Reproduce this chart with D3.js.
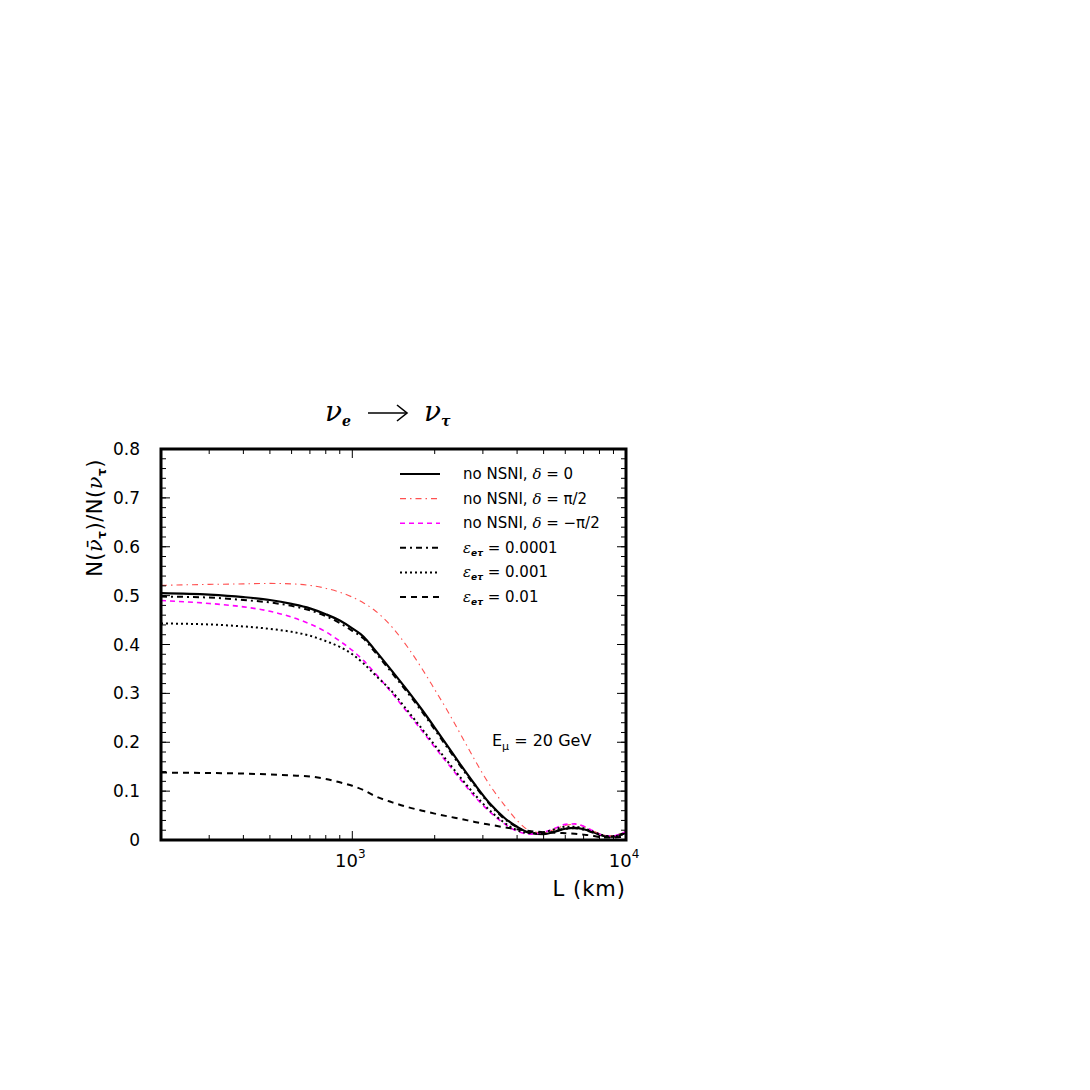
<!DOCTYPE html>
<html>
<head>
<meta charset="utf-8">
<script src="https://d3js.org/d3.v7.min.js"></script>
<style>
  body { margin: 0; background: #fff; }
  svg { display: block; }
</style>
</head>
<body>
<div id="chart"></div>
<script>
/*
nu_e -> nu_tau ratio vs baseline
*/

// Baselines (km) at which the curves were read
var L_km = [200, 300, 400, 500, 600, 700, 800, 900, 1000, 1100, 1200, 1400, 1600, 1800, 2000, 2250,
            2500, 2800, 3200, 3600, 4000, 4500, 5000, 5500, 6000, 6500, 7000, 7500, 8000, 8500, 9000, 9500, 10000];

// no NSNI, delta = 0
var noNsniD0 = [0.505, 0.502, 0.497, 0.491, 0.483, 0.474, 0.462, 0.449, 0.433, 0.416, 0.391, 0.345, 0.304, 0.266, 0.230, 0.189,
                0.152, 0.114, 0.073, 0.045, 0.027, 0.014, 0.012, 0.017, 0.023, 0.025, 0.022, 0.017, 0.011, 0.007, 0.007, 0.011, 0.015];
// no NSNI, delta = pi/2
var noNsniPi2 = [0.521, 0.523, 0.524, 0.525, 0.524, 0.521, 0.515, 0.507, 0.497, 0.485, 0.471, 0.435, 0.393, 0.350, 0.308, 0.260,
                 0.214, 0.164, 0.110, 0.071, 0.040, 0.018, 0.015, 0.022, 0.030, 0.032, 0.028, 0.020, 0.013, 0.009, 0.008, 0.012, 0.018];
// no NSNI, delta = -pi/2
var noNsniMPi2 = [0.490, 0.484, 0.477, 0.468, 0.456, 0.442, 0.426, 0.407, 0.388, 0.367, 0.344, 0.300, 0.259, 0.223, 0.190, 0.154,
                  0.122, 0.089, 0.056, 0.033, 0.018, 0.012, 0.016, 0.024, 0.032, 0.033, 0.028, 0.020, 0.012, 0.008, 0.008, 0.012, 0.017];
// eps_etau = 0.0001
var eps1e4 = [0.498, 0.496, 0.491, 0.486, 0.479, 0.470, 0.458, 0.444, 0.428, 0.412, 0.387, 0.341, 0.300, 0.262, 0.226, 0.185,
              0.149, 0.111, 0.071, 0.043, 0.026, 0.014, 0.013, 0.018, 0.023, 0.024, 0.021, 0.016, 0.011, 0.007, 0.007, 0.010, 0.014];
// eps_etau = 0.001
var eps1e3 = [0.443, 0.441, 0.437, 0.432, 0.426, 0.418, 0.407, 0.395, 0.380, 0.361, 0.340, 0.303, 0.263, 0.227, 0.194, 0.158,
              0.126, 0.093, 0.059, 0.035, 0.020, 0.014, 0.016, 0.022, 0.027, 0.027, 0.024, 0.018, 0.012, 0.008, 0.007, 0.010, 0.013];
// eps_etau = 0.01
var eps1e2 = [0.138, 0.137, 0.136, 0.134, 0.132, 0.130, 0.125, 0.118, 0.111, 0.102, 0.091, 0.077, 0.067, 0.060, 0.054, 0.048,
              0.043, 0.037, 0.031, 0.026, 0.022, 0.018, 0.016, 0.015, 0.014, 0.013, 0.011, 0.009, 0.006, 0.005, 0.005, 0.006, 0.008];

// Ticks
var yTicks = [0, 0.1, 0.2, 0.3, 0.4, 0.5, 0.6, 0.7, 0.8];
var xMajor = [1000, 10000];
var xMajorExp = ["3", "4"];
var xMinor = [200, 300, 400, 500, 600, 700, 800, 900, 2000, 3000, 4000, 5000, 6000, 7000, 8000, 9000];

// Page / plot box (note: "top" is a reserved window property, so use plot_*)
var width = 1090, height = 1090;
var plot_left = 161, plot_right = 626, plot_top = 449, plot_bottom = 840;

var font = "'DejaVu Sans', sans-serif";
var serif = "'DejaVu Serif', serif";

var svg = d3.select("#chart").append("svg")
  .attr("width", width)
  .attr("height", height);

var x = d3.scaleLog().domain([200, 10000]).range([plot_left, plot_right]);
var y = d3.scaleLinear().domain([0, 0.8]).range([plot_bottom, plot_top]);

// Series styles
var series = [
  {values: noNsniD0,   color: "#000",    width: 2.2, dash: null},
  {values: noNsniPi2,  color: "#ff5050", width: 1.1, dash: "6,4,1.5,4"},
  {values: noNsniMPi2, color: "#ff00ff", width: 1.6, dash: "5,4"},
  {values: eps1e4,     color: "#000",    width: 2,   dash: "6,4,2,4"},
  {values: eps1e3,     color: "#000",    width: 2,   dash: "2,3"},
  {values: eps1e2,     color: "#000",    width: 2,   dash: "6,5"}
];

svg.append("clipPath").attr("id", "plot-clip")
  .append("rect")
  .attr("x", plot_left).attr("y", plot_top)
  .attr("width", plot_right - plot_left).attr("height", plot_bottom - plot_top);

var line = d3.line()
  .x(function(d) { return x(d[0]); })
  .y(function(d) { return y(d[1]); })
  .curve(d3.curveMonotoneX);

// Curves
var curves = svg.append("g").attr("clip-path", "url(#plot-clip)");
series.forEach(function(s) {
  curves.append("path")
    .datum(L_km.map(function(l, i) { return [l, s.values[i]]; }))
    .attr("d", line)
    .attr("fill", "none")
    .attr("stroke", s.color)
    .attr("stroke-width", s.width)
    .attr("stroke-dasharray", s.dash);
});

// Ticks pointing inward, on all four sides
var ticks = svg.append("g").attr("stroke", "#000").attr("stroke-width", 1);

function xTick(v, len) {
  ticks.append("line").attr("x1", x(v)).attr("x2", x(v)).attr("y1", plot_bottom).attr("y2", plot_bottom - len);
  ticks.append("line").attr("x1", x(v)).attr("x2", x(v)).attr("y1", plot_top).attr("y2", plot_top + len);
}
function yTick(v, len) {
  ticks.append("line").attr("x1", plot_left).attr("x2", plot_left + len).attr("y1", y(v)).attr("y2", y(v));
  ticks.append("line").attr("x1", plot_right).attr("x2", plot_right - len).attr("y1", y(v)).attr("y2", y(v));
}
xMinor.forEach(function(v) { xTick(v, 5); });
xMajor.forEach(function(v) { xTick(v, 9); });
d3.range(0, 0.8001, 0.02).forEach(function(v) { yTick(v, 5); });
yTicks.forEach(function(v) { yTick(v, 9); });

// Frame
svg.append("rect")
  .attr("x", plot_left).attr("y", plot_top)
  .attr("width", plot_right - plot_left).attr("height", plot_bottom - plot_top)
  .attr("fill", "none")
  .attr("stroke", "#000")
  .attr("stroke-width", 3);

// Y tick labels
svg.append("g").selectAll("text")
  .data(yTicks)
  .enter().append("text")
  .attr("x", plot_left - 21)
  .attr("y", function(d) { return y(d) + 6; })
  .attr("text-anchor", "end")
  .style("font-family", font)
  .style("font-size", "17px")
  .text(function(d) { return d === 0 ? "0" : d3.format(".1f")(d); });

// X tick labels: 10^3, 10^4
var xl = svg.append("g").selectAll("text")
  .data(xMajor)
  .enter().append("text")
  .attr("x", function(d) { return x(d) - 2; })
  .attr("y", plot_bottom + 27)
  .attr("text-anchor", "middle")
  .style("font-family", font)
  .style("font-size", "18px");
xl.append("tspan").text("10");
xl.append("tspan")
  .attr("dy", -9)
  .style("font-size", "12px")
  .text(function(d, i) { return xMajorExp[i]; });

// Axis titles
svg.append("text")
  .attr("x", plot_right)
  .attr("y", plot_bottom + 56)
  .attr("text-anchor", "end")
  .style("font-family", font)
  .style("font-size", "21px")
  .style("letter-spacing", "1px")
  .text("L (km)");

var yl = svg.append("text")
  .attr("transform", "translate(102,518) rotate(-90)")
  .attr("text-anchor", "middle")
  .style("font-family", font)
  .style("font-size", "21px")
  .style("letter-spacing", "0.5px");
yl.append("tspan").text("N(");
yl.append("tspan").style("font-family", serif).style("font-style", "italic").text("ν\u0304");
yl.append("tspan").attr("dy", 4).style("font-size", "12px").style("font-weight", "bold").text("τ");
yl.append("tspan").attr("dy", -4).text(")/N(");
yl.append("tspan").style("font-family", serif).style("font-style", "italic").text("ν");
yl.append("tspan").attr("dy", 4).style("font-size", "12px").style("font-weight", "bold").text("τ");
yl.append("tspan").attr("dy", -4).text(")");

// Title: nu_e -> nu_tau
var title = svg.append("g").style("font-family", serif);
title.append("text").attr("x", 325).attr("y", 421)
  .style("font-size", "28px").style("font-style", "italic").text("ν");
title.append("text").attr("x", 342).attr("y", 426)
  .style("font-size", "14px").style("font-weight", "bold").style("font-style", "italic").text("e");
title.append("line").attr("x1", 368).attr("x2", 406).attr("y1", 413).attr("y2", 413)
  .attr("stroke", "#000").attr("stroke-width", 1.6);
title.append("path").attr("d", "M397,405 L407,413 L397,421")
  .attr("fill", "none").attr("stroke", "#000").attr("stroke-width", 1.6);
title.append("text").attr("x", 424).attr("y", 421)
  .style("font-size", "28px").style("font-style", "italic").text("ν");
title.append("text").attr("x", 441).attr("y", 426)
  .style("font-size", "14px").style("font-weight", "bold").style("font-style", "italic").text("τ");

// Legend
var legendRows = [
  {s: series[0], label: ["no NSNI, ", "δ", " = 0"]},
  {s: series[1], label: ["no NSNI, ", "δ", " = π/2"]},
  {s: series[2], label: ["no NSNI, ", "δ", " = −π/2"]},
  {s: series[3], eps: "0.0001"},
  {s: series[4], eps: "0.001"},
  {s: series[5], eps: "0.01"}
];
var legend = svg.append("g");
legendRows.forEach(function(r, i) {
  var ly = 474 + i * 24.6;
  legend.append("line")
    .attr("x1", 400).attr("x2", 440)
    .attr("y1", ly).attr("y2", ly)
    .attr("stroke", r.s.color)
    .attr("stroke-width", r.s.width)
    .attr("stroke-dasharray", r.s.dash);
  var t = legend.append("text")
    .attr("x", 463).attr("y", ly + 5)
    .style("font-family", font)
    .style("font-size", "15px");
  if (r.label) {
    t.append("tspan").text(r.label[0]);
    t.append("tspan").style("font-family", serif).style("font-style", "italic").text(r.label[1]);
    t.append("tspan").text(r.label[2]);
  } else {
    t.append("tspan").style("font-family", serif).style("font-style", "italic").text("ε");
    t.append("tspan").attr("dy", 3).style("font-size", "9px").style("font-weight", "bold")
      .style("font-style", "italic").text("eτ");
    t.append("tspan").attr("dy", -3).text(" = " + r.eps);
  }
});

// Beam energy note
var note = svg.append("text")
  .attr("x", 492).attr("y", 746)
  .style("font-family", font)
  .style("font-size", "16px");
note.append("tspan").text("E");
note.append("tspan").attr("dy", 4).style("font-size", "11px").text("μ");
note.append("tspan").attr("dy", -4).text(" = 20 GeV");
</script>
</body>
</html>
